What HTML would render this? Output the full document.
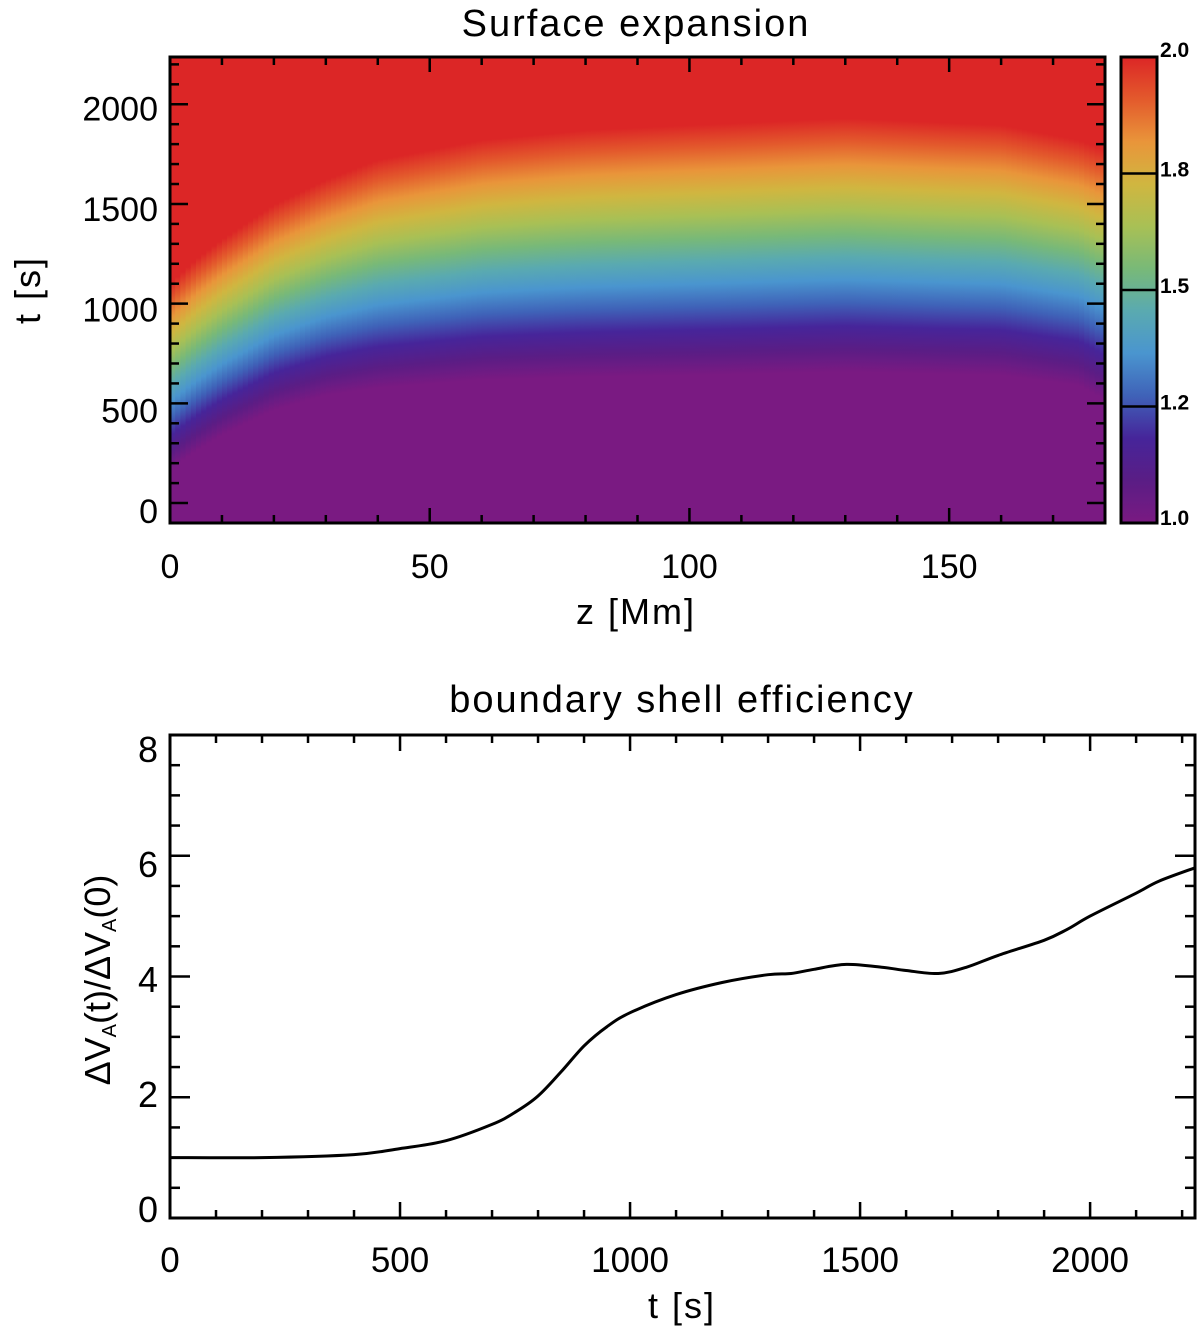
<!DOCTYPE html>
<html><head><meta charset="utf-8"><style>
html,body{margin:0;padding:0;background:#fff;}
svg{display:block;font-family:"Liberation Sans",sans-serif;}
</style></head><body>
<svg id="chart" width="1200" height="1330" viewBox="0 0 1200 1330" xmlns="http://www.w3.org/2000/svg">
<defs id="defs"></defs>
<g id="topPanel"></g>
<g id="botPanel"></g>
</svg>
<script>
// ---- heatmap data (z in Mm, t in s) ----
const zNodes = [0, 5, 10, 20, 30, 40, 60, 80, 100, 130, 160, 175, 180];
const tLow   = [170, 260, 340, 466, 540, 577, 617, 632, 640, 657, 640, 590, 515];
const tHigh  = [1100, 1220, 1320, 1495, 1620, 1720, 1820, 1870, 1895, 1930, 1895, 1820, 1770];
const zTicks = [0, 50, 100, 150];
const tTicksTop = [0, 500, 1000, 1500, 2000];
const cbLabels = ["1.0", "1.2", "1.5", "1.8", "2.0"];
// ---- line chart data ----
const lineT = [0, 200, 400, 500, 600, 700, 750, 800, 850, 900, 950, 1000, 1100, 1200, 1300, 1350, 1400, 1470, 1550, 1600, 1670, 1730, 1800, 1900, 1950, 2000, 2100, 2150, 2228];
const lineV = [1.0, 1.0, 1.05, 1.15, 1.28, 1.55, 1.75, 2.02, 2.42, 2.85, 3.17, 3.4, 3.7, 3.9, 4.03, 4.05, 4.12, 4.2, 4.15, 4.1, 4.05, 4.15, 4.35, 4.6, 4.78, 5.0, 5.38, 5.58, 5.8];
const tTicksBot = [0, 500, 1000, 1500, 2000];
const vTicks = [0, 2, 4, 6, 8];

const NS = "http://www.w3.org/2000/svg";
function mk(tag, attrs, parent){const e=document.createElementNS(NS,tag);for(const k in attrs)e.setAttribute(k,attrs[k]);if(parent)parent.appendChild(e);return e;}
const cmap = ["#7a1a82","#5a1d85","#46259a","#3f62b8","#4a95cf","#5aaab0","#78b978","#a8c055","#d0b640","#e9953a","#e35a2c","#dc2626"];

const TX0=170,TX1=1105,TY0=57,TY1=523, ZMAX=180, TMIN=-100, TMAX=2237;
const zx=z=>TX0+z/ZMAX*(TX1-TX0);
const ty=t=>TY1-(t-TMIN)/(TMAX-TMIN)*(TY1-TY0);
function interp(xs,ys,x){if(x<=xs[0])return ys[0];for(let i=1;i<xs.length;i++){if(x<=xs[i]){const f=(x-xs[i-1])/(xs[i]-xs[i-1]);return ys[i-1]+f*(ys[i]-ys[i-1]);}}return ys[ys.length-1];}
const defsEl=document.getElementById('defs');
const gTop=document.getElementById('topPanel');
const hm=mk('g',{},gTop);


const dz=1;
for(let z=0; z<ZMAX; z+=dz){
  const zc=z+dz/2;
  const lo=interp(zNodes,tLow,zc), hi=interp(zNodes,tHigh,zc);
  const g=mk('linearGradient',{id:'g'+z,gradientUnits:'userSpaceOnUse',x1:0,x2:0,y1:ty(lo),y2:ty(hi)},defsEl);
  cmap.forEach((c,i)=>mk('stop',{offset:(i/(cmap.length-1)).toFixed(3),'stop-color':c},g));
  const r=mk('rect',{x:zx(z),y:TY0,width:zx(z+dz)-zx(z)+0.6,height:TY1-TY0,fill:'url(#g'+z+')'},hm);
  
  
}
mk('rect',{x:TX0,y:TY0,width:TX1-TX0,height:TY1-TY0,fill:'none',stroke:'#000','stroke-width':3},gTop);
for(let z=0;z<=ZMAX;z+=10){const big=z%50===0;const L=big?15:8;
  mk('line',{x1:zx(z),x2:zx(z),y1:TY1,y2:TY1-L,stroke:'#000','stroke-width':2.5},gTop);
  mk('line',{x1:zx(z),x2:zx(z),y1:TY0,y2:TY0+L,stroke:'#000','stroke-width':2.5},gTop);}
for(let t=0;t<=2200;t+=100){const big=t%500===0;const L=big?18:9;
  mk('line',{x1:TX0,x2:TX0+L,y1:ty(t),y2:ty(t),stroke:'#000','stroke-width':2.5},gTop);
  mk('line',{x1:TX1,x2:TX1-L,y1:ty(t),y2:ty(t),stroke:'#000','stroke-width':2.5},gTop);}
zTicks.forEach(z=>{const t=mk('text',{x:zx(z),y:578,'font-size':34,'text-anchor':'middle'},gTop);t.textContent=z;
  });
tTicksTop.forEach(v=>{const t=mk('text',{x:158,y:ty(v)+20-v*0.002,'font-size':34,'text-anchor':'end'},gTop);t.textContent=v;
  });
let tt=mk('text',{x:636,y:36,'font-size':38,'text-anchor':'middle','letter-spacing':2},gTop);tt.textContent='Surface expansion';

tt=mk('text',{x:636,y:624,'font-size':36,'text-anchor':'middle','letter-spacing':2},gTop);tt.textContent='z [Mm]';

tt=mk('text',{x:0,y:0,'font-size':36,'text-anchor':'middle','letter-spacing':2,transform:'translate(40,290) rotate(-90)'},gTop);tt.textContent='t [s]';

const CX0=1121,CX1=1157;
const cg=mk('linearGradient',{id:'cbg',x1:0,x2:0,y1:1,y2:0},defsEl);
cmap.forEach((c,i)=>mk('stop',{offset:(i/(cmap.length-1)).toFixed(3),'stop-color':c},cg));
const cb=mk('rect',{x:CX0,y:TY0,width:CX1-CX0,height:TY1-TY0,fill:'url(#cbg)',stroke:'#000','stroke-width':3},gTop);

cbLabels.forEach((l,i)=>{const y=TY1-i/(cbLabels.length-1)*(TY1-TY0);
  if(i>0&&i<cbLabels.length-1)mk('line',{x1:CX0,x2:CX1,y1:y,y2:y,stroke:'#000','stroke-width':2.5},gTop);
  const yy = i===cbLabels.length-1? 57 : i===0? 525 : y+3;
  const t=mk('text',{x:1160,y:yy,'font-size':21,'font-weight':'bold'},gTop);
  t.textContent=l;});

const gBot=document.getElementById('botPanel');
const BX0=170,BX1=1195,BY0=735,BY1=1218,BTMAX=2228,VMAX=8;
const bx=t=>BX0+t/BTMAX*(BX1-BX0);
const by=v=>BY1-v/VMAX*(BY1-BY0);
mk('rect',{x:BX0,y:BY0,width:BX1-BX0,height:BY1-BY0,fill:'none',stroke:'#000','stroke-width':3},gBot);
for(let t=0;t<=2200;t+=100){const big=t%500===0;const L=big?16:8;
  mk('line',{x1:bx(t),x2:bx(t),y1:BY1,y2:BY1-L,stroke:'#000','stroke-width':2.5},gBot);
  mk('line',{x1:bx(t),x2:bx(t),y1:BY0,y2:BY0+L,stroke:'#000','stroke-width':2.5},gBot);}
for(let v=0;v<=8;v+=0.5){const big=v%2===0;const L=big?20:10;
  mk('line',{x1:BX0,x2:BX0+L,y1:by(v),y2:by(v),stroke:'#000','stroke-width':2.5},gBot);
  mk('line',{x1:BX1,x2:BX1-L,y1:by(v),y2:by(v),stroke:'#000','stroke-width':2.5},gBot);}
tTicksBot.forEach(v=>{const t=mk('text',{x:bx(v),y:1272,'font-size':35,'text-anchor':'middle'},gBot);t.textContent=v;
  });
vTicks.forEach(v=>{const t=mk('text',{x:158,y:by(v)+4+v*2.9,'font-size':36,'text-anchor':'end'},gBot);t.textContent=v;
  });
tt=mk('text',{x:682,y:712,'font-size':38,'text-anchor':'middle','letter-spacing':2},gBot);tt.textContent='boundary shell efficiency';

tt=mk('text',{x:682,y:1318,'font-size':36,'text-anchor':'middle','letter-spacing':2},gBot);tt.textContent='t [s]';

const yl=mk('text',{x:0,y:0,'font-size':36,'text-anchor':'middle',transform:'translate(110,980) rotate(-90)'},gBot);


yl.innerHTML='ΔV<tspan font-size="20" dy="6">A</tspan><tspan dy="-6">(t)/ΔV</tspan><tspan font-size="20" dy="6">A</tspan><tspan dy="-6">(0)</tspan>';
const P=lineT.map((t,i)=>[bx(t),by(lineV[i])]);
let d='M'+P[0][0].toFixed(1)+','+P[0][1].toFixed(1);
for(let i=0;i<P.length-1;i++){const p0=P[Math.max(0,i-1)],p1=P[i],p2=P[i+1],p3=P[Math.min(P.length-1,i+2)];
  const c1=[p1[0]+(p2[0]-p0[0])/6,p1[1]+(p2[1]-p0[1])/6],c2=[p2[0]-(p3[0]-p1[0])/6,p2[1]-(p3[1]-p1[1])/6];
  d+=' C'+c1.map(v=>v.toFixed(1)).join(',')+' '+c2.map(v=>v.toFixed(1)).join(',')+' '+p2.map(v=>v.toFixed(1)).join(',');}
const ln=mk('path',{d:d,fill:'none',stroke:'#000','stroke-width':3},gBot);


</script>
</body></html>
